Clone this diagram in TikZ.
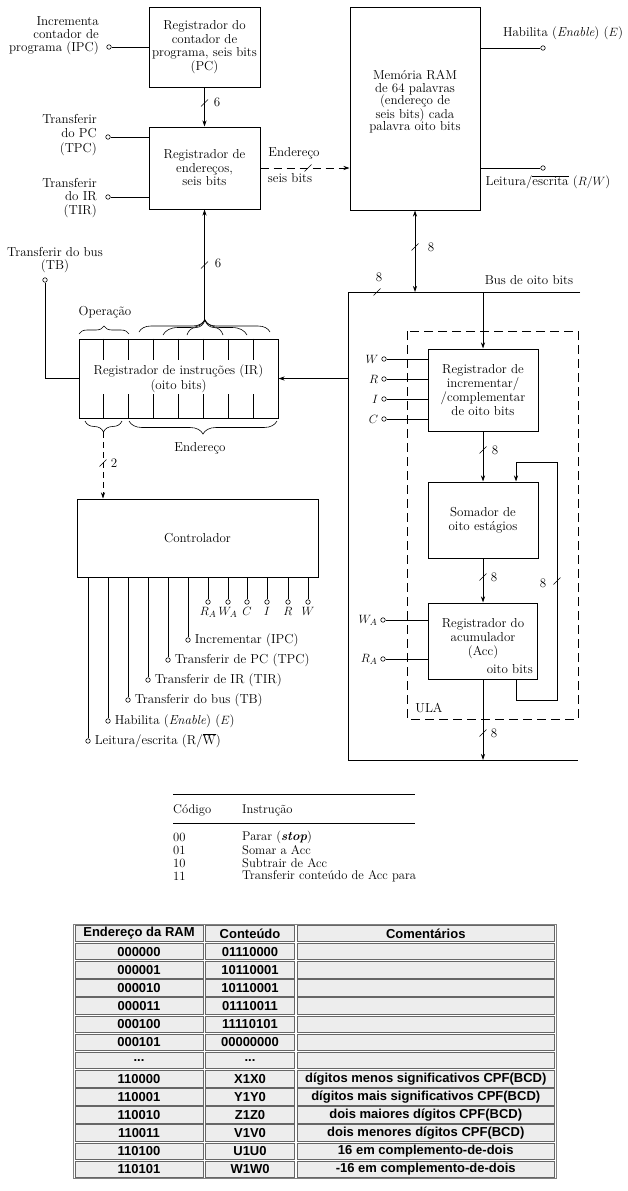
\documentclass[tikz,border=0pt]{standalone}
\usepackage{fontspec}
\newfontfamily\arialfont{Liberation Sans}
\usetikzlibrary{arrows.meta,decorations.pathreplacing,calc}
\newcommand\dotsrow{...}

\begin{document}
\begin{tikzpicture}
[x=1pt,y=-1pt,
  blockDecorate/.style={draw,line width=1pt,inner sep=0pt,align=center},
  lineDecorate/.style={line width=0.7pt},
  arrowDecorate/.style={line width=0.7pt,-{Stealth[length=6pt,width=4pt]}},
  termDecorate/.style={circle,draw,line width=0.6pt,fill=white,inner sep=0pt,minimum size=4.5pt},
  textDecorate/.style={font=\fontsize{13}{13.5}\selectfont,align=center,inner sep=0pt},
  braceDecorate/.style={decorate,decoration={brace,amplitude=#1},line width=0.6pt},
  busmark/.pic={\draw[line width=0.6pt] (-3.5,3.5) -- (3.5,-3.5);},
  cellDecorate/.style={draw=black!60,line width=0.9pt,fill=black!7,inner sep=0pt,
    font=\arialfont\bfseries\fontsize{13}{13}\selectfont}]
\useasboundingbox (0,0) rectangle (628,1191);
%% blocks
\node (pc) at (204.5,47) [blockDecorate,textDecorate,minimum width=111pt,minimum height=80pt]
  {Registrador do\\contador de\\programa, seis bits\\(PC)};
\node (ar) at (204.5,168) [blockDecorate,textDecorate,minimum width=111pt,minimum height=82pt]
  {Registrador de\\endereços,\\seis bits};
\node (ram) at (415,108.5) [blockDecorate,minimum width=130pt,minimum height=203pt] {};
\node (ramtext) at (415,102) [textDecorate,font=\fontsize{13}{12.3}\selectfont]
  {Memória RAM\\de 64 palavras\\(endereço de\\seis bits) cada\\palavra oito bits};
\node (ir) at (178.5,378.5) [blockDecorate,textDecorate,font=\fontsize{13}{15}\selectfont,
  minimum width=199pt,minimum height=79pt] {Registrador de instruções (IR)\\(oito bits)};
\node (ctrl) at (197.5,538) [blockDecorate,textDecorate,minimum width=241pt,minimum height=78pt]
  {Controlador};
\node (inc) at (483,390) [blockDecorate,textDecorate,font=\fontsize{13}{13.8}\selectfont,
  minimum width=110pt,minimum height=82pt] {Registrador de\\incrementar/\\/complementar\\de oito bits};
\node (add) at (483,520) [blockDecorate,textDecorate,minimum width=110pt,minimum height=76pt]
  {Somador de\\oito estágios};
\node (acc) at (483,641) [blockDecorate,minimum width=109pt,minimum height=76pt] {};
\node (acctext) at (483,639) [textDecorate,font=\fontsize{13}{14}\selectfont]
  {Registrador do\\acumulador\\(Acc)};
\node (accbits) at (533,673) [textDecorate,anchor=base east] {oito bits};

%% bus and ULA frame
\coordinate (busTL) at (348,292);
\coordinate (busTR) at (580,292);
\coordinate (busBL) at (348,760);
\coordinate (busBR) at (578,760);
\draw[line width=1pt] (busTR) -- (busTL) -- (busBL) -- (busBR);
\node (buslabel) at (529,280) [textDecorate] {Bus de oito bits};
\draw[line width=0.7pt,dash pattern=on 9pt off 5pt] (407,331) rectangle (578,719);
\node (ula) at (429,708) [textDecorate] {ULA};

%% terminals and their labels
\foreach \nodename/\x/\y in {ipc/109/47, tpc/108/137, tir/108/197, tb/45/280, en/543/48, rw/543/168}
{
  \node (\nodename) at (\x,\y) [termDecorate] {};
}
\node (ipclabel) at (99,36) [textDecorate,align=right,anchor=east,font=\fontsize{13}{13}\selectfont]
  {Incrementa\\contador de\\programa (IPC)};
\node (tpclabel) at (97,135) [textDecorate,align=right,anchor=east,font=\fontsize{13}{14.5}\selectfont]
  {Transferir\\do PC\\(TPC)};
\node (tirlabel) at (97,198) [textDecorate,align=right,anchor=east,font=\fontsize{13}{13.5}\selectfont]
  {Transferir\\do IR\\(TIR)};
\node (tblabel) at (55,260) [textDecorate,font=\fontsize{13}{13.5}\selectfont] {Transferir do bus\\(TB)};
\node (enlabel) at (563,33) [textDecorate] {Habilita (\textit{Enable}) ($E$)};
\node (rwlabel) at (548,182) [textDecorate] {Leitura/$\overline{\mbox{escrita}}$ ($R/W$)};
\path
\foreach \startnode/\endnode in {ipc/pc, tpc/ar, tir/ar}
{
  (\startnode) edge[lineDecorate] (\startnode -| \endnode.west)
}
\foreach \startnode in {en, rw}
{
  (\startnode) edge[lineDecorate] (\startnode -| ram.east)
};
\draw[lineDecorate] (tb) |- (ir.west);
\foreach \nodename/\y/\lab in {w/359/W, r/379/R, i/399/I, c/419/C}
{
  \node (\nodename) at (384,\y) [termDecorate,label={[textDecorate,label distance=3pt]left:$\lab$}] {};
  \draw[lineDecorate] (\nodename) -- (\nodename -| inc.west);
}
\foreach \nodename/\y/\lab in {wa/620/W_A, ra/659/R_A}
{
  \node (\nodename) at (383,\y) [termDecorate,label={[textDecorate,label distance=3pt]left:$\lab$}] {};
  \draw[lineDecorate] (\nodename) -- (\nodename -| acc.west);
}

%% IR cells and braces
\foreach \i in {1,...,7}
{
  \draw[lineDecorate] ($(ir.north west)!\i/8!(ir.north east)$) -- ++(0,21);
  \draw[lineDecorate] ($(ir.south west)!\i/8!(ir.south east)$) -- ++(0,-25);
}
\draw[braceDecorate=8pt] (79,334) -- (129,334);
\node (oplabel) at (105,312) [textDecorate] {Operação};
\draw[braceDecorate=12pt] (139,332) -- (270,332);
\draw[braceDecorate=15pt] (163,335) -- (247,335);
\draw[braceDecorate=15pt] (187,335) -- (223,335);
\coordinate (addrtip) at (204.5,320);
\draw[braceDecorate=11pt,decoration={mirror}] (85,421) -- (122,421);
\draw[braceDecorate=13pt,decoration={mirror}] (129,421) -- (277,421);
\coordinate (optip) at (103,432);
\node (addrlabel) at (200,448) [textDecorate] {Endereço};

%% data paths
\draw[arrowDecorate] (pc.south) -- (ar.north);
\pic at (204.5,103) {busmark};
\node (n6a) at (217,102) [textDecorate] {6};
\draw[arrowDecorate] (addrtip) -- (ar.south);
\pic at (204.5,265) {busmark};
\node (n6b) at (218,263) [textDecorate] {6};
\draw[arrowDecorate,dash pattern=on 8pt off 5pt] (ar.east) -- (ar.east -| ram.west);
\pic at (308,168) {busmark};
\node (endlabel) at (294,153) [textDecorate] {Endereço};
\node (seislabel) at (290,178) [textDecorate] {seis bits};
\draw[lineDecorate,{Stealth[length=6pt,width=4pt]}-{Stealth[length=6pt,width=4pt]}]
  (ram.south) -- (ram.south |- busTL);
\pic at (415,247) {busmark};
\node (n8a) at (431,247) [textDecorate] {8};
\pic at (377,292) {busmark};
\node (n8b) at (379,277) [textDecorate] {8};
\draw[arrowDecorate] (inc.north |- busTL) -- (inc.north);
\draw[arrowDecorate] (busTL |- ir.east) -- (ir.east);
\draw[arrowDecorate] (inc.south) -- (add.north);
\pic at (483,450) {busmark};
\node (n8c) at (495,450) [textDecorate] {8};
\draw[arrowDecorate] (add.south) -- (acc.north);
\pic at (483,577) {busmark};
\node (n8d) at (494,577) [textDecorate] {8};
\draw[arrowDecorate] ([xshift=33pt]acc.south) -- ++(0,21) -| (557,462) -| ([xshift=33pt]add.north);
\pic at (557,581) {busmark};
\node (n8e) at (543,583) [textDecorate] {8};
\draw[arrowDecorate] (acc.south) -- (acc.south |- busBL);
\pic at (483,733) {busmark};
\node (n8f) at (494,733) [textDecorate] {8};
\draw[arrowDecorate,dash pattern=on 6pt off 4pt] (optip) -- (optip |- ctrl.north);
\pic at (103,463) {busmark};
\node (n2) at (114,463) [textDecorate] {2};

%% controller outputs
\foreach \nodename/\x/\y/\lab in {oipc/188/640/{Incrementar (IPC)}, otpc/168/660/{Transferir de PC (TPC)},
  otir/148/680/{Transferir de IR (TIR)}, otb/128/700/{Transferir do bus (TB)},
  oen/108/721/{Habilita (\textit{Enable}) ($E$)}, orw/88/741/{Leitura/escrita (R/$\overline{\mathrm{W}}$)}}
{
  \node (\nodename) at (\x,\y) [termDecorate,label={[textDecorate,label distance=4pt]right:\lab}] {};
  \draw[lineDecorate] (\nodename |- ctrl.south) -- (\nodename);
}
\foreach \nodename/\x/\lab in {cra/208/R_A, cwa/228/W_A, cc/247/C, ci/267/I, cr/288/R, cw/308/W}
{
  \node (\nodename) at (\x,602) [termDecorate,label={[textDecorate,label distance=3pt]below:$\lab$}] {};
  \draw[lineDecorate] (\nodename |- ctrl.south) -- (\nodename);
}

%% instruction codes
\draw[line width=0.7pt] (173,794) -- (415,794);
\draw[line width=0.7pt] (173,823) -- (415,823);
\foreach \cod/\ins/\y [count=\k] in {Código/Instrução/810, 00/{Parar (\textbf{\textit{stop}})}/837,
  01/Somar a Acc/850, 10/Subtrair de Acc/863, 11/Transferir conteúdo de Acc para/876}
{
  \node (cod\k) at (173,\y) [anchor=west,inner sep=0pt,font=\fontsize{12.6}{12.6}\selectfont] {\cod};
  \node (ins\k) at (242,\y) [anchor=west,inner sep=0pt,font=\fontsize{12.6}{12.6}\selectfont] {\ins};
}

%% RAM contents
\draw[draw=black!50,line width=0.9pt] (73,924) rectangle (556,1178);
\foreach \row/\addr/\cont/\com in {0/{Endereço da RAM}/Conteúdo/Comentários,
  1/000000/01110000/{}, 2/000001/10110001/{}, 3/000010/10110001/{}, 4/000011/01110011/{},
  5/000100/11110101/{}, 6/000101/00000000/{}, 7/\dotsrow/\dotsrow/{},
  8/110000/X1X0/dígitos menos significativos CPF(BCD),
  9/110001/Y1Y0/dígitos mais significativos CPF(BCD),
  10/110010/Z1Z0/dois maiores dígitos CPF(BCD),
  11/110011/V1V0/dois menores dígitos CPF(BCD),
  12/110100/U1U0/16 em complemento-de-dois,
  13/110101/W1W0/-16 em complemento-de-dois}
{
  \node (addr\row) at (139,{933.5+18.15*\row}) [cellDecorate,minimum width=128pt,minimum height=16.5pt] {\addr};
  \node (cont\row) at (250,{933.5+18.15*\row}) [cellDecorate,minimum width=89pt,minimum height=16.5pt] {\cont};
  \node (com\row) at (425.75,{933.5+18.15*\row}) [cellDecorate,minimum width=256.5pt,minimum height=16.5pt] {\com};
}
\end{tikzpicture}
\end{document}
